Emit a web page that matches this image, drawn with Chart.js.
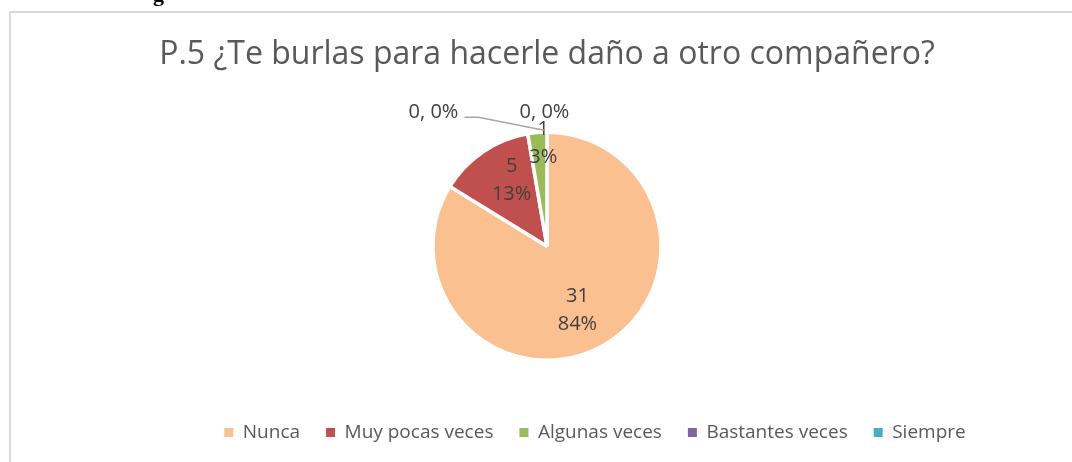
<!DOCTYPE html>
<html lang="es">
<head>
  <meta charset="UTF-8">
  <title>P.5 ¿Te burlas para hacerle daño a otro compañero?</title>
  <script src="https://cdn.jsdelivr.net/npm/chart.js"></script>
  <style>
    html, body { margin: 0; padding: 0; background: #fff; }
    #caja { position: absolute; left: 0; top: 0; width: 1072px; height: 462px; }
  </style>
</head>
<body>
  <div id="caja"><canvas id="grafica"></canvas></div>

  <script>
    // datos
    const categorias = ["Nunca", "Muy pocas veces", "Algunas veces", "Bastantes veces", "Siempre"];
    const respuestas = [31, 5, 1, 0, 0];
    const colores = ["#FAC090", "#C0504D", "#9BBB59", "#8064A2", "#4BACC6"];
    const titulo = "P.5 ¿Te burlas para hacerle daño a otro compañero?";

    // dónde van las etiquetas: [fracción del radio, giro en grados]
    const posEtiqueta = [[0.62, 3.7], [0.66, 6], [0.9, 2.8]];
    const etiquetasCero = [
      { dx: -113.5, dy: -20, guia: true },
      { dx: -2.5, dy: -20, guia: false }
    ];

    const fuente = '"Open Sans", "Noto Sans", sans-serif';
    const total = respuestas.reduce((a, b) => a + b, 0);

    // porcentajes redondeados como Excel (que sumen 100)
    function porcentajes(vals) {
      const crudos = vals.map(v => v / total * 100);
      const res = crudos.map(Math.floor);
      let falta = 100 - res.reduce((a, b) => a + b, 0);
      const orden = crudos.map((c, i) => [c - Math.floor(c), i]).sort((a, b) => b[0] - a[0]);
      for (let k = 0; k < falta; k++) res[orden[k][1]]++;
      return res;
    }
    const pcts = porcentajes(respuestas);

    // marco de la figura y la "g" cortada del texto de arriba
    const marco = {
      id: 'marco',
      beforeDraw(chart) {
        const ctx = chart.ctx;
        ctx.save();
        ctx.strokeStyle = '#d9d9d9';
        ctx.lineWidth = 2;
        ctx.beginPath();
        ctx.moveTo(10, 462);
        ctx.lineTo(10, 12);
        ctx.lineTo(1072, 12);
        ctx.stroke();
        ctx.fillStyle = '#000';
        ctx.font = 'bold 22px "Liberation Serif"';
        ctx.textBaseline = 'alphabetic';
        ctx.fillText('g', 153, 1);
        ctx.restore();
      },
      afterLayout(chart) {
        // la leyenda de Excel no está centrada con el título
        chart.legend.left += 48;
        chart.legend.right += 48;
        chart.legend.top += 6;
        chart.legend.bottom += 6;
      }
    };

    const etiquetas = {
      id: 'etiquetas',
      afterDatasetsDraw(chart) {
        const ctx = chart.ctx;
        const arcos = chart.getDatasetMeta(0).data;
        ctx.save();
        ctx.font = '20px ' + fuente;
        ctx.fillStyle = '#404040';
        ctx.textAlign = 'center';
        ctx.textBaseline = 'middle';
        let k = 0;
        arcos.forEach((arco, i) => {
          const p = arco.getProps(['x', 'y', 'startAngle', 'endAngle', 'outerRadius'], true);
          const v = respuestas[i];
          const pct = pcts[i] + '%';
          if (v > 0) {
            const [f, giro] = posEtiqueta[i];
            const a = (p.startAngle + p.endAngle) / 2 + giro * Math.PI / 180;
            const r = p.outerRadius * f;
            const x = p.x + Math.cos(a) * r;
            const y = p.y + Math.sin(a) * r;
            ctx.fillText(String(v), x, y - 14);
            ctx.fillText(pct, x, y + 14);
          } else {
            const e = etiquetasCero[k++];
            const ax = p.x + Math.cos(p.startAngle) * p.outerRadius;
            const ay = p.y + Math.sin(p.startAngle) * p.outerRadius;
            const tx = ax + e.dx, ty = ay + e.dy;
            if (e.guia) {
              ctx.strokeStyle = '#a6a6a6';
              ctx.lineWidth = 1.5;
              ctx.beginPath();
              ctx.moveTo(tx + 31, ty + 5);
              ctx.lineTo(tx + 45, ty + 5);
              ctx.lineTo(ax - 3, ay - 2);
              ctx.stroke();
            }
            ctx.fillText(v + ', ' + pct, tx, ty);
          }
        });
        ctx.restore();
      }
    };

    new Chart(document.getElementById('grafica'), {
      type: 'pie',
      data: {
        labels: categorias,
        datasets: [{
          data: respuestas,
          backgroundColor: colores,
          borderColor: '#ffffff',
          borderWidth: 3.5
        }]
      },
      options: {
        responsive: true,
        maintainAspectRatio: false,
        animation: false,
        radius: 114,
        layout: { padding: { left: 22, right: 0, top: 0, bottom: 16 } },
        plugins: {
          tooltip: { enabled: false },
          title: {
            display: true,
            text: titulo,
            color: '#595959',
            font: { family: fuente, size: 32, weight: 'normal' },
            padding: { top: 36, bottom: 27 }
          },
          legend: {
            position: 'bottom',
            labels: {
              color: '#595959',
              font: { family: fuente, size: 19 },
              boxWidth: 9,
              boxHeight: 9,
              padding: 26,
              generateLabels(chart) {
                const items = Chart.overrides.pie.plugins.legend.labels.generateLabels(chart);
                items.forEach(it => { it.lineWidth = 0; it.strokeStyle = it.fillStyle; });
                return items;
              }
            }
          }
        }
      },
      plugins: [marco, etiquetas]
    });
  </script>
</body>
</html>
